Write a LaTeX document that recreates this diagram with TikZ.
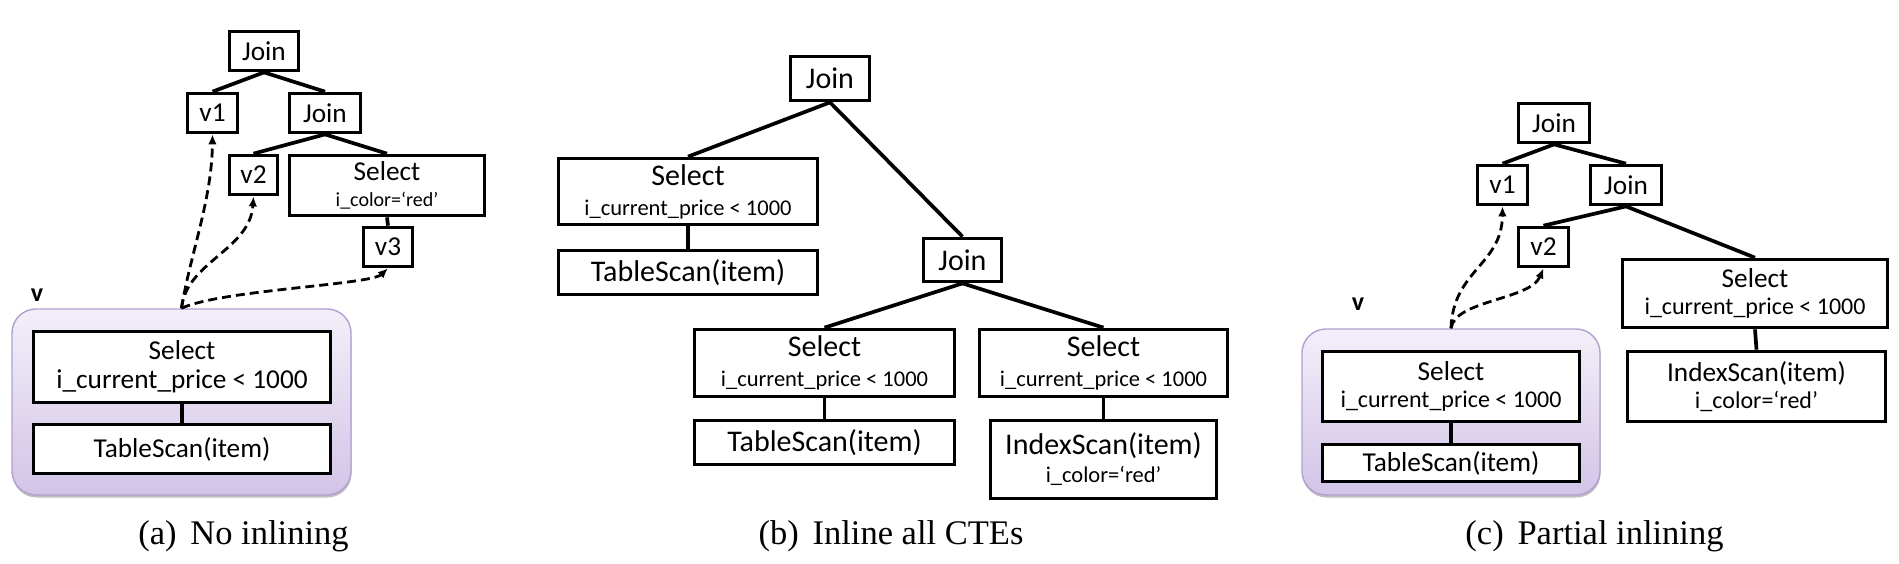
\documentclass[tikz,border=0pt]{standalone}
\usepackage{fontspec}
\setmainfont{Carlito}
\newfontfamily\capfont{Liberation Serif}
\usetikzlibrary{arrows.meta,shadows}
\definecolor{vtop}{RGB}{243,239,249}
\definecolor{vbot}{RGB}{210,196,231}
\definecolor{vborder}{RGB}{178,160,208}
\newcommand{\fM}{\fontsize{27.3}{30}\selectfont}
\newcommand{\fB}{\fontsize{30}{32}\selectfont}
\newcommand{\fSa}{\fontsize{20}{22}\selectfont}
\newcommand{\fSb}{\fontsize{22.5}{24}\selectfont}
\newcommand{\fSc}{\fontsize{24}{26}\selectfont}
\begin{document}
\begin{tikzpicture}[x=1pt,y=-1pt,
  opbox/.style={draw, line width=3.7pt, inner sep=0pt, align=center, fill=white, font=\fM},
  bigbox/.style={opbox, font=\fB},
  treeedge/.style={line width=3.7pt},
  dasharrow/.style={line width=2.8pt, dash pattern=on 9pt off 5pt, -{Latex[length=10pt,width=8.5pt]}},
  viewbox/.style={draw=vborder, line width=1.4pt, rounded corners=24pt, top color=vtop, bottom color=vbot,
     drop shadow={shadow xshift=0.5pt, shadow yshift=-2.5pt, opacity=0.25, fill=black}},
  vlab/.style={inner sep=0pt, font=\fontsize{26}{26}\selectfont\bfseries},
  captext/.style={inner sep=0pt, font=\capfont\fontsize{34.5}{36}\selectfont}]
\useasboundingbox (0,0) rectangle (1899,564);

% ---------------- (a) No inlining ----------------
\node[viewbox, minimum width=339, minimum height=186] (aV) at (181.5,402) {};
\node[vlab] (aVl) at (37,295) {v};
\node[opbox, minimum width=297, minimum height=71] (aSi) at (182,367) {Select\\[-1pt]i\_current\_price < 1000};
\node[opbox, minimum width=297, minimum height=49] (aT) at (182,449) {TableScan(item)};
\node[opbox, minimum width=69, minimum height=39] (aJ) at (264,51) {Join};
\node[opbox, minimum width=50, minimum height=39] (av1) at (212.5,113) {v1};
\node[opbox, minimum width=71, minimum height=39] (aJ2) at (325,113) {Join};
\node[opbox, minimum width=48, minimum height=39] (av2) at (253.5,175) {v2};
\node[opbox, minimum width=195, minimum height=60] (aS) at (387,185.5) {Select\\[-4pt]{\fSa i\_color=‘red’}};
\node[opbox, minimum width=49, minimum height=39] (av3) at (388,247) {v3};
\draw[treeedge] (aJ.south) -- (av1.north);
\draw[treeedge] (aJ.south) -- (aJ2.north);
\draw[treeedge] (aJ2.south) -- (av2.north);
\draw[treeedge] (aJ2.south) -- (aS.north);
\draw[treeedge] (aS.south) -- (av3.north);
\draw[treeedge] (aSi.south) -- (aT.north);
\draw[dasharrow] (aV.north) .. controls (190,255) and (212,200) .. (av1.south);
\draw[dasharrow] (aV.north) .. controls (186,262) and (250,250) .. (av2.south);
\draw[dasharrow] (aV.north) .. controls (220,290) and (370,285) .. (av3.south);
\node[captext, anchor=base] (capa) at (243.5,544) {(a)\hspace{0.4em}No inlining};

% ---------------- (b) Inline all CTEs ----------------
\node[bigbox, minimum width=79, minimum height=44] (bJ) at (830,78.5) {Join};
\node[bigbox, minimum width=259, minimum height=66] (bS1) at (688,191.5) {Select\\[-2pt]{\fSb i\_current\_price < 1000}};
\node[bigbox, minimum width=259, minimum height=44] (bT1) at (688,272.5) {TableScan(item)};
\node[bigbox, minimum width=78, minimum height=43] (bJ2) at (962.5,260) {Join};
\node[bigbox, minimum width=260, minimum height=67] (bS2) at (824.5,363) {Select\\[-2pt]{\fSb i\_current\_price < 1000}};
\node[bigbox, minimum width=260, minimum height=44] (bT2) at (824.5,442.5) {TableScan(item)};
\node[bigbox, minimum width=248, minimum height=67] (bS3) at (1103.5,363) {Select\\[-2pt]{\fSb i\_current\_price < 1000}};
\node[bigbox, minimum width=226, minimum height=78] (bI) at (1103.5,459.5) {IndexScan(item)\\[-4pt]{\fSb i\_color=‘red’}};
\draw[treeedge] (bJ.south) -- (bS1.north);
\draw[treeedge] (bJ.south) -- (bJ2.north);
\draw[treeedge] (bS1.south) -- (bT1.north);
\draw[treeedge] (bJ2.south) -- (bS2.north);
\draw[treeedge] (bJ2.south) -- (bS3.north);
\draw[treeedge] (bS2.south) -- (bT2.north);
\draw[treeedge] (bS3.south) -- (bI.north);
\node[captext, anchor=base] (capb) at (891,544) {(b)\hspace{0.4em}Inline all CTEs};

% ---------------- (c) Partial inlining ----------------
\node[viewbox, minimum width=298, minimum height=166] (cV) at (1451,412) {};
\node[vlab] (cVl) at (1358,304) {v};
\node[opbox, minimum width=257, minimum height=70] (cSi) at (1451,386.5) {Select\\[-3pt]{\fSc i\_current\_price < 1000}};
\node[opbox, minimum width=257, minimum height=37] (cT) at (1451,463) {TableScan(item)};
\node[opbox, minimum width=71, minimum height=39] (cJ) at (1554,123) {Join};
\node[opbox, minimum width=50, minimum height=39] (cv1) at (1502.5,185) {v1};
\node[opbox, minimum width=71, minimum height=39] (cJ2) at (1626,185) {Join};
\node[opbox, minimum width=50, minimum height=39] (cv2) at (1543.5,247) {v2};
\node[opbox, minimum width=265, minimum height=68] (cS) at (1755,293.5) {Select\\[-3pt]{\fSc i\_current\_price < 1000}};
\node[opbox, minimum width=258, minimum height=70] (cI) at (1756.5,386.5) {IndexScan(item)\\[-3pt]{\fSc i\_color=‘red’}};
\draw[treeedge] (cJ.south) -- (cv1.north);
\draw[treeedge] (cJ.south) -- (cJ2.north);
\draw[treeedge] (cJ2.south) -- (cv2.north);
\draw[treeedge] (cJ2.south) -- (cS.north);
\draw[treeedge] (cS.south) -- (cI.north);
\draw[treeedge] (cSi.south) -- (cT.north);
\draw[dasharrow] (cV.north) .. controls (1453,270) and (1502,265) .. (cv1.south);
\draw[dasharrow] (cV.north) .. controls (1455,300) and (1530,300) .. (cv2.south);
\node[captext, anchor=base] (capc) at (1594.5,544) {(c)\hspace{0.4em}Partial inlining};
\end{tikzpicture}
\end{document}
